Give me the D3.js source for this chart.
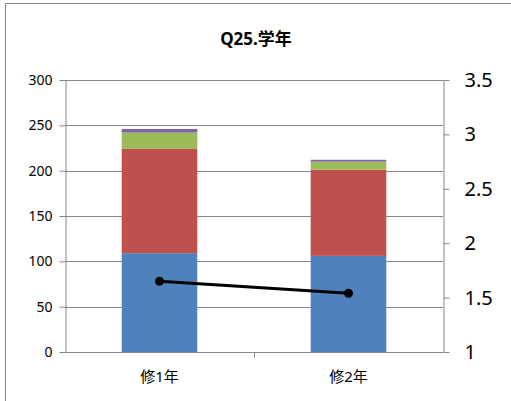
<!DOCTYPE html>
<html lang="ja">
<head>
<meta charset="UTF-8">
<title>Q25.学年</title>
<script src="https://cdn.jsdelivr.net/npm/d3@7"></script>
<style>
  body { margin: 0; background: #fff; }
  text { font-family: "Noto Sans", "Noto Sans CJK JP", sans-serif; fill: #000; }
</style>
</head>
<body>
<script>
// data
var categories = ["修1年", "修2年"];
var seriesBlue   = [109, 106];
var seriesRed    = [115, 95];
var seriesGreen  = [18, 9];
var seriesPurple = [4, 2];
var lineValues   = [1.65, 1.54];
var leftTicks  = [0, 50, 100, 150, 200, 250, 300];
var rightTicks = [1, 1.5, 2, 2.5, 3, 3.5];

var colors = ["#4F81BD", "#C0504D", "#9BBB59", "#8064A2"];

var W = 511, H = 401;
var m = {left: 65, right: 443, top: 80, bottom: 352};

var svg = d3.select("body").append("svg")
    .attr("width", W).attr("height", H);

// chart frame
svg.append("rect")
    .attr("x", 5.5).attr("y", 3.5)
    .attr("width", W).attr("height", H)
    .attr("fill", "#fff").attr("stroke", "#868686");

svg.append("text")
    .attr("x", 256).attr("y", 45)
    .attr("text-anchor", "middle")
    .style("font-size", "17px").style("font-weight", "bold")
    .text("Q25.学年");

var x = d3.scaleBand().domain(categories).range([m.left, m.right]).paddingInner(0.6).paddingOuter(0.3);
var y = d3.scaleLinear().domain([0, 300]).range([m.bottom, m.top]);
var y2 = d3.scaleLinear().domain([1, 3.5]).range([m.bottom, m.top]);

// gridlines
svg.append("g").selectAll("line")
    .data(leftTicks.slice(1))
    .join("line")
    .attr("x1", m.left).attr("x2", m.right)
    .attr("y1", d => Math.round(y(d)) + 0.5).attr("y2", d => Math.round(y(d)) + 0.5)
    .attr("stroke", "#868686");

// stacked bars
var rows = categories.map(function(c, i) {
  return {cat: c, a: seriesBlue[i], b: seriesRed[i], c: seriesGreen[i], d: seriesPurple[i]};
});
var stack = d3.stack().keys(["a", "b", "c", "d"])(rows);

svg.append("g").selectAll("g")
    .data(stack)
    .join("g")
    .attr("fill", (d, i) => colors[i])
    .selectAll("rect")
    .data(d => d)
    .join("rect")
    .attr("x", d => x(d.data.cat))
    .attr("width", x.bandwidth())
    .attr("y", d => y(d[1]))
    .attr("height", d => y(d[0]) - y(d[1]));

// axes
var axisStyle = function(g) {
  g.select(".domain").attr("stroke", "#868686");
  g.selectAll(".tick line").attr("stroke", "#868686");
  g.selectAll(".tick text").style("font-family", null);
};

svg.append("g")
    .attr("transform", "translate(" + (m.left + 0.5) + ",0)")
    .call(d3.axisLeft(y).tickValues(leftTicks).tickSize(6).tickSizeOuter(0).tickPadding(7))
    .call(axisStyle)
    .selectAll("text").style("font-size", "14px");

svg.append("g")
    .attr("transform", "translate(" + (m.right + 0.5) + ",0)")
    .call(d3.axisRight(y2).tickValues(rightTicks).tickSize(6).tickSizeOuter(0).tickPadding(15)
      .tickFormat(d3.format("")))
    .call(axisStyle)
    .selectAll("text").style("font-size", "20px");

var xAxis = svg.append("g")
    .attr("transform", "translate(0," + (m.bottom + 0.5) + ")");
xAxis.append("line")
    .attr("x1", m.left).attr("x2", m.right)
    .attr("stroke", "#868686");
xAxis.append("line")
    .attr("x1", (m.left + m.right) / 2 + 0.5).attr("x2", (m.left + m.right) / 2 + 0.5)
    .attr("y1", 0).attr("y2", 5)
    .attr("stroke", "#868686");
xAxis.selectAll("text")
    .data(categories)
    .join("text")
    .attr("x", d => x(d) + x.bandwidth() / 2)
    .attr("y", 29)
    .attr("text-anchor", "middle")
    .style("font-size", "15px")
    .text(d => d);

// line series on the right axis
var pts = categories.map((c, i) => [x(c) + x.bandwidth() / 2, y2(lineValues[i])]);
svg.append("path")
    .attr("d", d3.line()(pts))
    .attr("fill", "none")
    .attr("stroke", "#000")
    .attr("stroke-width", 3);
svg.append("g").selectAll("circle")
    .data(pts)
    .join("circle")
    .attr("cx", d => d[0]).attr("cy", d => d[1])
    .attr("r", 4.5)
    .attr("fill", "#000");
</script>
</body>
</html>
